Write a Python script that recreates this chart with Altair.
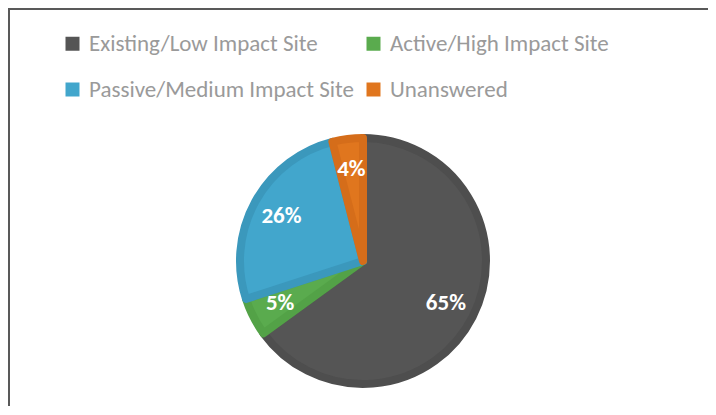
import altair as alt
import pandas as pd

categories = ["Existing/Low Impact Site", "Active/High Impact Site",
              "Passive/Medium Impact Site", "Unanswered"]
values = [65, 5, 26, 4]
labels = ["65%", "5%", "26%", "4%"]
fill_colors = ["#555555", "#5AAB4E", "#42A6CC", "#E0761E"]
band_colors = ["#4E4E4E", "#53A247", "#3B98BC", "#D56D1A"]

df = pd.DataFrame({
    "cat": categories,
    "value": values,
    "label": labels,
    "idx": list(range(len(categories))),
})

W, H = 700, 398
CX, CY = 355, 253

font = "Carlito, Calibri, Lato, sans-serif"

base = alt.Chart(df).encode(
    theta=alt.Theta("value:Q", stack=True),
    order=alt.Order("idx:Q"),
)

arcs = base.mark_arc(
    x=CX, y=CY, outerRadius=123, strokeWidth=8, strokeJoin="round"
).encode(
    color=alt.Color(
        "cat:N",
        scale=alt.Scale(domain=categories, range=fill_colors),
        sort=categories,
        legend=alt.Legend(
            title=None,
            orient="none",
            legendX=53,
            legendY=24,
            columns=2,
            direction="horizontal",
            symbolType="square",
            symbolSize=196,
            symbolStrokeWidth=0,
            labelFont=font,
            labelFontSize=23,
            labelColor="#9A9A9A",
            labelOffset=5,
            columnPadding=8,
            rowPadding=22,
            labelLimit=400,
        ),
    ),
    stroke=alt.Stroke(
        "cat:N",
        scale=alt.Scale(domain=categories, range=band_colors),
        legend=None,
    ),
)

texts = base.mark_text(
    x=CX, y=CY, radius=93, font=font, fontSize=23, fontWeight="bold",
    color="white",
).encode(text="label:N")

border_df = pd.DataFrame({"k": ["top"]})
top_rule = alt.Chart(border_df).mark_rule(color="#595959", strokeWidth=2).encode(
    x=alt.value(0), x2=alt.value(W), y=alt.value(1)
)
left_rule = alt.Chart(border_df).mark_rule(color="#595959", strokeWidth=2).encode(
    x=alt.value(1), y=alt.value(0), y2=alt.value(H)
)

chart = alt.layer(arcs, texts, top_rule, left_rule).properties(
    width=W, height=H, padding=0,
    autosize=alt.AutoSizeParams(type="none"),
).configure_view(stroke=None)

chart.save("out.html", embed_options={"renderer": "svg", "actions": False})
